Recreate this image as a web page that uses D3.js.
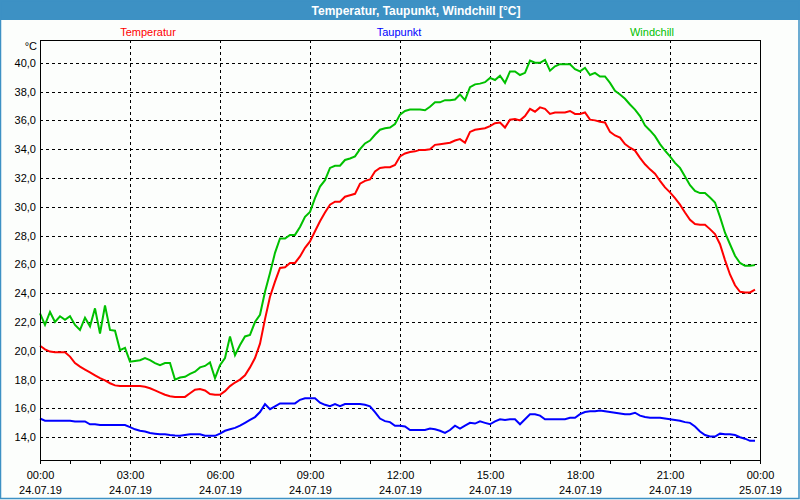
<!DOCTYPE html>
<html>
<head>
<meta charset="utf-8">
<script src="https://cdnjs.cloudflare.com/ajax/libs/d3/7.8.5/d3.min.js"></script>
<style>
  body { margin: 0; background: #fcfefc; }
  svg text { font-family: "Liberation Sans", Arial, sans-serif; }
</style>
</head>
<body>
<div id="chart"></div>
<script>
// Messwerte alle 10 Minuten, 24.07.19 00:00 bis 23:50
var startTime = new Date(2019, 6, 24, 0, 0);
var endTime = new Date(2019, 6, 25, 0, 0);
var stepMinutes = 10;

var temperatur = [
  20.35, 20.1, 19.95, 19.9, 19.9, 19.9, 19.6, 19.15, 18.9, 18.7, 18.5, 18.3,
  18.1, 17.95, 17.75, 17.6, 17.55, 17.55, 17.55, 17.55, 17.55, 17.5, 17.4, 17.25,
  17.1, 16.95, 16.85, 16.8, 16.8, 16.8, 17.05, 17.3, 17.35, 17.25, 17.0, 16.95,
  16.95, 17.2, 17.55, 17.8, 18.0, 18.3, 18.85, 19.5, 20.5, 22.2, 23.75, 24.8,
  25.75, 25.8, 26.1, 26.1, 26.55, 27.15, 27.6, 28.3, 29.0, 29.6, 30.15, 30.35,
  30.35, 30.7, 30.8, 30.9, 31.6, 31.8, 31.9, 32.45, 32.7, 32.75, 32.75, 32.9,
  33.5, 33.7, 33.8, 33.85, 33.95, 33.95, 34.0, 34.3, 34.35, 34.4, 34.45, 34.6,
  34.7, 34.45, 35.2, 35.35, 35.4, 35.45, 35.6, 35.8, 35.85, 35.5, 36.05, 36.1,
  36.0, 36.3, 36.8, 36.6, 36.9, 36.8, 36.45, 36.55, 36.55, 36.55, 36.65, 36.45,
  36.45, 36.55, 36.05, 36.0, 35.9, 35.85, 35.2, 34.95, 34.8, 34.35, 34.1, 33.9,
  33.4, 32.95, 32.6, 32.3, 31.8, 31.35, 31.0, 30.6, 30.15, 29.6, 29.1, 28.8,
  28.75, 28.75, 28.45, 28.1, 27.4, 26.3, 25.3, 24.55, 24.1, 24.05, 24.05, 24.25
];

var taupunkt = [
  15.3, 15.15, 15.15, 15.15, 15.15, 15.15, 15.15, 15.1, 15.1, 15.1, 14.9, 14.9,
  14.85, 14.85, 14.85, 14.85, 14.85, 14.85, 14.7, 14.55, 14.45, 14.4, 14.3, 14.25,
  14.2, 14.2, 14.15, 14.12, 14.1, 14.15, 14.2, 14.2, 14.2, 14.1, 14.1, 14.1,
  14.25, 14.45, 14.55, 14.65, 14.8, 15.0, 15.2, 15.4, 15.75, 16.3, 15.95, 16.15,
  16.35, 16.35, 16.35, 16.35, 16.6, 16.7, 16.7, 16.7, 16.4, 16.25, 16.15, 16.3,
  16.15, 16.3, 16.3, 16.3, 16.3, 16.25, 16.15, 15.75, 15.3, 15.12, 15.05, 14.8,
  14.8, 14.75, 14.5, 14.5, 14.5, 14.5, 14.6, 14.55, 14.45, 14.3, 14.5, 14.8,
  14.6, 14.8, 15.0, 14.95, 15.1, 15.0, 14.9, 15.1, 15.25, 15.2, 15.25, 15.25,
  14.9, 15.25, 15.6, 15.6, 15.5, 15.25, 15.25, 15.25, 15.25, 15.25, 15.35, 15.35,
  15.6, 15.75, 15.8, 15.8, 15.85, 15.8, 15.75, 15.7, 15.65, 15.6, 15.6, 15.7,
  15.5, 15.4, 15.35, 15.35, 15.35, 15.3, 15.25, 15.2, 15.15, 15.05, 15.0, 14.75,
  14.4, 14.15, 14.05, 14.05, 14.25, 14.2, 14.2, 14.15, 14.0, 13.9, 13.75, 13.75
];

var windchill = [
  22.6, 21.8, 22.7, 22.0, 22.4, 22.15, 22.4, 21.8, 21.45, 22.3, 21.7, 22.95,
  21.2, 23.15, 21.45, 21.4, 20.05, 20.2, 19.25, 19.3, 19.35, 19.5, 19.35, 19.15,
  19.0, 19.15, 19.15, 18.0, 18.15, 18.2, 18.4, 18.55, 18.85, 18.95, 19.2, 18.1,
  19.0, 19.5, 21.0, 19.7, 20.4, 21.0, 21.1, 22.0, 22.5, 24.1, 25.4, 26.8,
  27.8, 27.8, 28.05, 28.05, 28.6, 29.3, 29.65, 30.6, 31.4, 31.85, 32.7, 32.85,
  32.85, 33.25, 33.35, 33.5, 34.0, 34.4, 34.6, 35.0, 35.35, 35.45, 35.5, 35.75,
  36.4, 36.65, 36.75, 36.75, 36.75, 36.7, 36.95, 37.25, 37.25, 37.4, 37.4, 37.45,
  37.8, 37.4, 38.3, 38.5, 38.55, 38.65, 38.95, 38.8, 39.1, 38.6, 39.4, 39.4,
  39.15, 39.3, 40.15, 40.0, 40.0, 40.2, 39.45, 39.75, 39.9, 39.9, 39.9, 39.55,
  39.4, 39.65, 39.15, 39.3, 39.05, 39.05, 38.6, 38.05, 37.8, 37.5, 37.1, 36.75,
  36.3, 35.65, 35.3, 34.9, 34.35, 33.9, 33.5, 33.05, 32.7, 32.1, 31.5, 31.1,
  30.95, 30.95, 30.65, 30.3, 29.3, 28.2, 27.4, 26.6, 26.1, 25.9, 25.9, 25.95
];

var seriesNames = ["Temperatur", "Taupunkt", "Windchill"];
var seriesColors = ["#ff0000", "#0000ff", "#00c000"];
var yTicks = [14, 16, 18, 20, 22, 24, 26, 28, 30, 32, 34, 36, 38, 40];
var chartTitle = "Temperatur, Taupunkt, Windchill [°C]";
var unitLabel = "°C";

var W = 800, H = 500;
var margin = { top: 40, right: 40, bottom: 40, left: 40 };
var blue = "#3d91c4";

var svg = d3.select("#chart").append("svg")
  .attr("width", W)
  .attr("height", H)
  .style("display", "block");

svg.append("rect").attr("width", W).attr("height", H).attr("fill", "#fcfefc");

// Titelleiste
svg.append("rect").attr("x", 0).attr("y", 0).attr("width", W).attr("height", 20).attr("fill", blue);
svg.append("text")
  .attr("x", 416).attr("y", 15)
  .attr("text-anchor", "middle")
  .attr("fill", "#fff")
  .style("font-weight", "bold")
  .style("font-size", "12px")
  .text(chartTitle);

// Fensterrahmen
svg.append("rect")
  .attr("x", 0.5).attr("y", 0.5).attr("width", W - 1.5).attr("height", H - 2)
  .attr("fill", "none").attr("stroke", blue).attr("stroke-width", 1.5);

// Skalen
var x = d3.scaleTime().domain([startTime, endTime]).range([margin.left, W - margin.right]);
var y = d3.scaleLinear().domain([12.42, 41.58]).range([H - margin.bottom, margin.top]);

var commaLocale = d3.formatLocale({ decimal: ",", thousands: ".", grouping: [3], currency: ["", " €"] });
var fmtY = commaLocale.format(".1f");
var fmtHour = d3.timeFormat("%H:%M");
var fmtDay = d3.timeFormat("%d.%m.%y");

// Gitter
var grid = svg.append("g").attr("shape-rendering", "crispEdges")
  .attr("stroke", "#000").attr("stroke-dasharray", "3,3");

grid.selectAll(".hgrid")
  .data(yTicks)
  .join("line")
  .attr("x1", margin.left).attr("x2", W - margin.right)
  .attr("y1", d => Math.round(y(d)) + 0.5).attr("y2", d => Math.round(y(d)) + 0.5);

var majorTicks = d3.timeHour.every(3).range(startTime, d3.timeMinute.offset(endTime, 1));
grid.selectAll(".vgrid")
  .data(majorTicks.filter(d => +d > +startTime && +d < +endTime))
  .join("line")
  .attr("x1", d => Math.round(x(d)) + 0.5).attr("x2", d => Math.round(x(d)) + 0.5)
  .attr("y1", margin.top).attr("y2", H - margin.bottom);

// X-Achse: Stundenstriche, Beschriftung alle 3 Stunden
var xaxis = d3.axisBottom(x)
  .ticks(d3.timeHour.every(1))
  .tickSize(4)
  .tickPadding(7)
  .tickFormat(d => d.getHours() % 3 === 0 ? fmtHour(d) : "");

var g_xaxis = svg.append("g")
  .attr("transform", `translate(0,${H - margin.bottom})`)
  .call(xaxis);
g_xaxis.select(".domain").remove();
g_xaxis.selectAll(".tick line").attr("stroke", "#000").attr("shape-rendering", "crispEdges");
g_xaxis.selectAll(".tick text")
  .attr("fill", "#000")
  .style("font-size", "11px")
  .each(function(d) {
    var t = d3.select(this);
    if (d.getHours() % 3 !== 0) return;
    t.text(null);
    t.append("tspan").attr("x", 0).attr("dy", "0.71em").text(fmtHour(d));
    t.append("tspan").attr("x", 0).attr("dy", "15").text(fmtDay(d));
  });

// Y-Achse
var yaxis = d3.axisLeft(y).tickValues(yTicks).tickSize(0).tickPadding(4).tickFormat(fmtY);
var g_yaxis = svg.append("g")
  .attr("transform", `translate(${margin.left},0)`)
  .call(yaxis);
g_yaxis.select(".domain").remove();
g_yaxis.selectAll(".tick text").attr("fill", "#000").style("font-size", "11px");

svg.append("text")
  .attr("x", 37).attr("y", 50)
  .attr("text-anchor", "end")
  .style("font-size", "11px")
  .text(unitLabel);

// Linien
var line = d3.line()
  .x((d, i) => x(d3.timeMinute.offset(startTime, i * stepMinutes)))
  .y(d => y(d));

var seriesData = [temperatur, taupunkt, windchill];
svg.selectAll(".serie")
  .data(seriesData)
  .join("path")
  .attr("class", "serie")
  .attr("fill", "none")
  .attr("stroke", (d, i) => seriesColors[i])
  .attr("stroke-width", 2)
  .attr("stroke-linejoin", "miter")
  .attr("d", line);

// Rahmen Diagrammfläche
svg.append("rect")
  .attr("x", margin.left + 0.5).attr("y", margin.top + 0.5)
  .attr("width", W - margin.left - margin.right).attr("height", H - margin.top - margin.bottom)
  .attr("fill", "none").attr("stroke", "#000").attr("shape-rendering", "crispEdges");

// Legende
var legendX = [148, 399, 652];
svg.selectAll(".legend")
  .data(seriesNames)
  .join("text")
  .attr("class", "legend")
  .attr("x", (d, i) => legendX[i])
  .attr("y", 36)
  .attr("text-anchor", "middle")
  .attr("fill", (d, i) => seriesColors[i])
  .style("font-size", "11px")
  .text(d => d);
</script>
</body>
</html>
